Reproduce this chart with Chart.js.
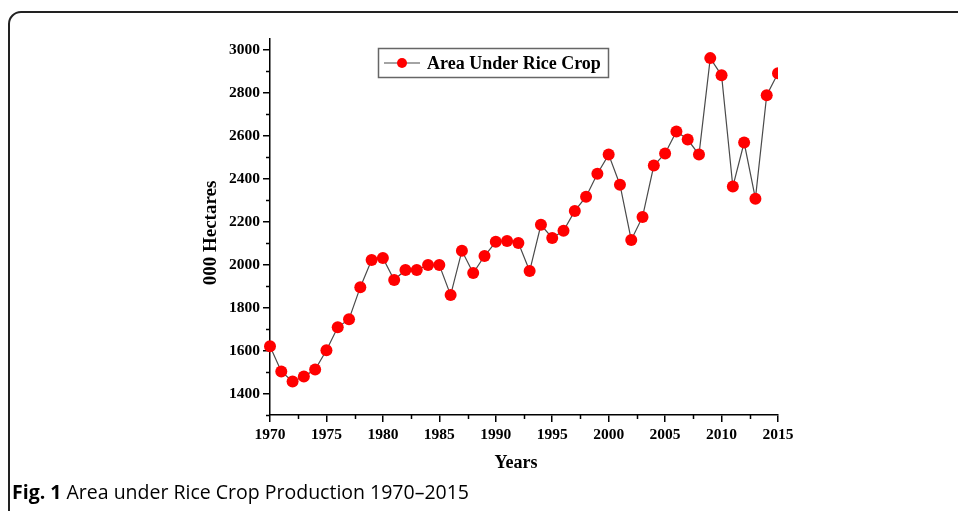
<!DOCTYPE html>
<html>
<head>
<meta charset="utf-8">
<script src="https://cdn.jsdelivr.net/npm/chart.js@4.4.1/dist/chart.umd.min.js"></script>
<style>
  html, body { margin: 0; padding: 0; background: #fff; }
  #wrap { width: 958px; height: 511px; position: relative; }
</style>
</head>
<body>
<div id="wrap"><canvas id="c" width="958" height="511"></canvas></div>
<script>
// 数据
const years = [1970, 1971, 1972, 1973, 1974, 1975, 1976, 1977, 1978, 1979,
  1980, 1981, 1982, 1983, 1984, 1985, 1986, 1987, 1988, 1989,
  1990, 1991, 1992, 1993, 1994, 1995, 1996, 1997, 1998, 1999,
  2000, 2001, 2002, 2003, 2004, 2005, 2006, 2007, 2008, 2009,
  2010, 2011, 2012, 2013, 2014, 2015]
const area = [1620, 1503, 1456, 1479, 1512, 1601, 1708, 1746, 1895, 2021,
  2031, 1928, 1975, 1975, 1998, 1998, 1858, 2064, 1961, 2040,
  2106, 2110, 2101, 1970, 2185, 2124, 2157, 2250, 2316, 2423,
  2512, 2372, 2115, 2222, 2461, 2517, 2620, 2582, 2512, 2961,
  2881, 2363, 2568, 2307, 2788, 2891]
const yTicks = [1400, 1600, 1800, 2000, 2200, 2400, 2600, 2800, 3000]
const xTicks = [1970, 1975, 1980, 1985, 1990, 1995, 2000, 2005, 2010, 2015]

const serif = '"Liberation Serif", "Times New Roman", serif'

const decor = {
  id: 'decor',
  beforeDraw(chart) {
    const ctx = chart.ctx
    ctx.save()
    ctx.fillStyle = '#fff'
    ctx.fillRect(0, 0, chart.width, chart.height)
    // 外框
    ctx.strokeStyle = '#222'
    ctx.lineWidth = 2
    ctx.beginPath()
    ctx.moveTo(chart.width + 2, 12)
    ctx.lineTo(21, 12)
    ctx.arcTo(9, 12, 9, 24, 12)
    ctx.lineTo(9, chart.height + 2)
    ctx.stroke()
    ctx.restore()
  },
  afterDraw(chart) {
    const ctx = chart.ctx
    const xs = chart.scales.x
    const ys = chart.scales.y
    const area = chart.chartArea
    ctx.save()
    ctx.strokeStyle = '#000'
    ctx.lineWidth = 1.5
    // 次刻度
    ctx.beginPath()
    for (let v = 1300; v <= 3050; v += 200) {
      const p = Math.round(ys.getPixelForValue(v)) + 0.5
      ctx.moveTo(area.left - 4, p)
      ctx.lineTo(area.left, p)
    }
    for (let v = 1972.5; v < 2015; v += 5) {
      const p = Math.round(xs.getPixelForValue(v)) + 0.5
      ctx.moveTo(p, area.bottom)
      ctx.lineTo(p, area.bottom + 4)
    }
    ctx.stroke()

    // 轴标题
    ctx.fillStyle = '#000'
    ctx.font = 'bold 18px ' + serif
    ctx.textAlign = 'center'
    ctx.textBaseline = 'middle'
    ctx.fillText('Years', 516, 463)
    ctx.save()
    ctx.translate(211, 233)
    ctx.rotate(-Math.PI / 2)
    ctx.font = 'bold 19px ' + serif
    ctx.fillText('000 Hectares', 0, 0)
    ctx.restore()

    // 图例
    const ds = chart.data.datasets[0]
    ctx.strokeStyle = '#666'
    ctx.lineWidth = 1.5
    ctx.strokeRect(378.5, 48.5, 230, 29)
    ctx.strokeStyle = ds.borderColor
    ctx.lineWidth = 1.2
    ctx.beginPath()
    ctx.moveTo(384, 63)
    ctx.lineTo(420, 63)
    ctx.stroke()
    ctx.fillStyle = ds.pointBackgroundColor
    ctx.beginPath()
    ctx.arc(402, 63, 5, 0, Math.PI * 2)
    ctx.fill()
    ctx.fillStyle = '#000'
    ctx.font = 'bold 18px ' + serif
    ctx.textAlign = 'left'
    ctx.fillText(ds.label, 427, 64)

    // 图注
    ctx.font = 'bold 19.5px "Open Sans", sans-serif'
    ctx.textAlign = 'left'
    ctx.fillText('Fig. 1', 12, 493)
    const w = ctx.measureText('Fig. 1 ').width
    ctx.font = '19.5px "Open Sans", sans-serif'
    ctx.fillText('Area under Rice Crop Production 1970\u20132015', 12 + w, 493)
    ctx.restore()
  }
}

new Chart(document.getElementById('c'), {
  type: 'line',
  data: {
    datasets: [{
      label: 'Area Under Rice Crop',
      data: years.map((y, i) => ({x: y, y: area[i]})),
      borderColor: '#4a4a4a',
      borderWidth: 1.2,
      pointBackgroundColor: '#ff0000',
      pointBorderWidth: 0,
      pointRadius: 6,
      tension: 0,
      clip: {left: false, top: false, right: 0, bottom: false}
    }]
  },
  options: {
    responsive: false,
    animation: false,
    events: [],
    layout: {padding: {left: 0, right: 180, top: 39, bottom: 0}},
    plugins: {legend: {display: false}, tooltip: {enabled: false}},
    scales: {
      x: {
        type: 'linear',
        min: 1970,
        max: 2015,
        afterBuildTicks: s => { s.ticks = xTicks.map(v => ({value: v})) },
        afterFit: s => { s.height = 96 },
        grid: {display: true, drawOnChartArea: false, drawTicks: true, tickLength: 7, color: '#000', lineWidth: 1.5},
        border: {display: true, color: '#000', width: 1.5},
        ticks: {color: '#000', font: {family: serif, size: 15.5, weight: 'bold'}, padding: 4, maxRotation: 0,
          callback: v => String(v)}
      },
      y: {
        min: 1300,
        max: 3050,
        afterBuildTicks: s => { s.ticks = yTicks.map(v => ({value: v})) },
        afterFit: s => { s.width = 270 },
        grid: {display: true, drawOnChartArea: false, drawTicks: true, tickLength: 7, color: '#000', lineWidth: 1.5},
        border: {display: true, color: '#000', width: 1.5},
        ticks: {color: '#000', font: {family: serif, size: 15.5, weight: 'bold'}, padding: 3,
          callback: v => String(v)}
      }
    }
  },
  plugins: [decor]
})
</script>
</body>
</html>
